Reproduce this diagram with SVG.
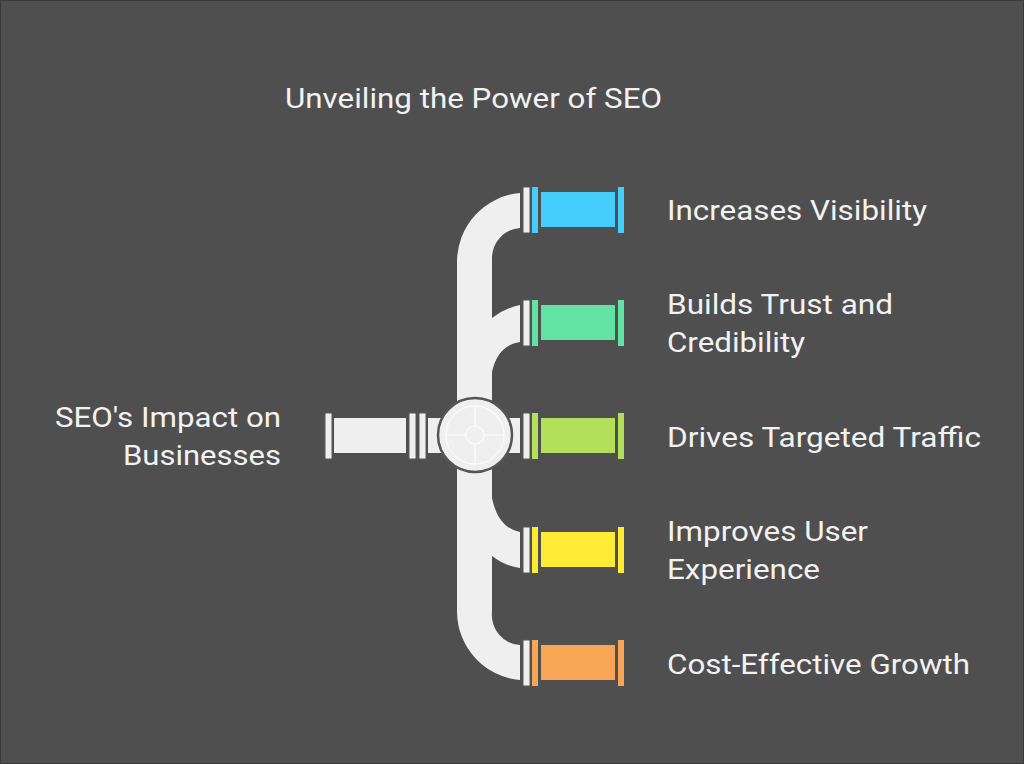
<svg xmlns="http://www.w3.org/2000/svg" width="1024" height="764" viewBox="0 0 1024 764">
<style>
text{font-family:Roboto,"Liberation Sans",sans-serif;fill:#f2f2f2;font-size:28px}
.p{fill:#efefef}
.o{stroke:#5a5a5a;stroke-width:1}
</style>
<rect x="0" y="0" width="1024" height="764" fill="#4f4f4f"/>
<rect x="0.5" y="0.5" width="1023" height="763" fill="none" stroke="#3a3a3a"/>
<text x="285" y="108" font-size="27" textLength="377" lengthAdjust="spacingAndGlyphs">Unveiling the Power of SEO</text>
<g id="pipe">
<path class="p" d="M457,612 L457,262 A69,69 0 0 1 520,193 L520,228 A30,30 0 0 0 492,258 L492,318 Q505,308 520,305 L520,342 Q498,345 492,372 L492,498 Q498,528 520,532 L520,568 Q505,566 492,556 L492,612 A30,30 0 0 0 520,645 L520,680 A69,69 0 0 1 457,612 Z"/>
</g>
<g id="source">
<rect class="p o" x="325" y="413" width="7" height="46" rx="1"/>
<rect class="p" x="334" y="418" width="72" height="35"/>
<rect class="p o" x="409" y="413" width="7" height="46" rx="1"/>
<rect class="p o" x="419" y="413" width="7" height="46" rx="1"/>
<rect class="p" x="428" y="418" width="92" height="35"/>
<circle cx="475" cy="435" r="37" fill="#efefef" stroke="#555" stroke-width="2.5"/>
<circle cx="475" cy="435" r="29" fill="none" stroke="#fafafa" stroke-width="1.5"/>
<circle cx="475" cy="435" r="9" fill="none" stroke="#fafafa" stroke-width="1.5"/>
<path d="M475,406V426M475,444V464M446,435H466M484,435H504" stroke="#fafafa" stroke-width="1.5"/>
<text x="55" y="427" textLength="226" lengthAdjust="spacingAndGlyphs">SEO's Impact on</text>
<text x="123" y="465" textLength="158" lengthAdjust="spacingAndGlyphs">Businesses</text>
</g>
<g id="n1">
<rect class="p o" x="523" y="187" width="7" height="46" rx="1"/>
<rect x="532" y="187" width="6" height="46" fill="#45cdfb"/>
<rect x="541" y="192" width="74" height="35" fill="#45cdfb"/>
<rect x="618" y="187" width="6" height="46" fill="#45cdfb"/>
<text x="667" y="220" textLength="260" lengthAdjust="spacingAndGlyphs">Increases Visibility</text>
</g>
<g id="n2">
<rect class="p o" x="523" y="300" width="7" height="46" rx="1"/>
<rect x="532" y="300" width="6" height="46" fill="#62e3a3"/>
<rect x="541" y="305" width="74" height="35" fill="#62e3a3"/>
<rect x="618" y="300" width="6" height="46" fill="#62e3a3"/>
<text x="667" y="314" textLength="226" lengthAdjust="spacingAndGlyphs">Builds Trust and</text>
<text x="667" y="352" textLength="138" lengthAdjust="spacingAndGlyphs">Credibility</text>
</g>
<g id="n3">
<rect class="p o" x="523" y="413" width="7" height="46" rx="1"/>
<rect x="532" y="413" width="6" height="46" fill="#b3e05a"/>
<rect x="541" y="418" width="74" height="35" fill="#b3e05a"/>
<rect x="618" y="413" width="6" height="46" fill="#b3e05a"/>
<text x="667" y="447" textLength="314" lengthAdjust="spacingAndGlyphs">Drives Targeted Traffic</text>
</g>
<g id="n4">
<rect class="p o" x="523" y="527" width="7" height="46" rx="1"/>
<rect x="532" y="527" width="6" height="46" fill="#ffea36"/>
<rect x="541" y="532" width="74" height="35" fill="#ffea36"/>
<rect x="618" y="527" width="6" height="46" fill="#ffea36"/>
<text x="667" y="541" textLength="201" lengthAdjust="spacingAndGlyphs">Improves User</text>
<text x="667" y="579" textLength="153" lengthAdjust="spacingAndGlyphs">Experience</text>
</g>
<g id="n5">
<rect class="p o" x="523" y="640" width="7" height="46" rx="1"/>
<rect x="532" y="640" width="6" height="46" fill="#f8a555"/>
<rect x="541" y="645" width="74" height="35" fill="#f8a555"/>
<rect x="618" y="640" width="6" height="46" fill="#f8a555"/>
<text x="667" y="674" textLength="303" lengthAdjust="spacingAndGlyphs">Cost-Effective Growth</text>
</g>
</svg>
